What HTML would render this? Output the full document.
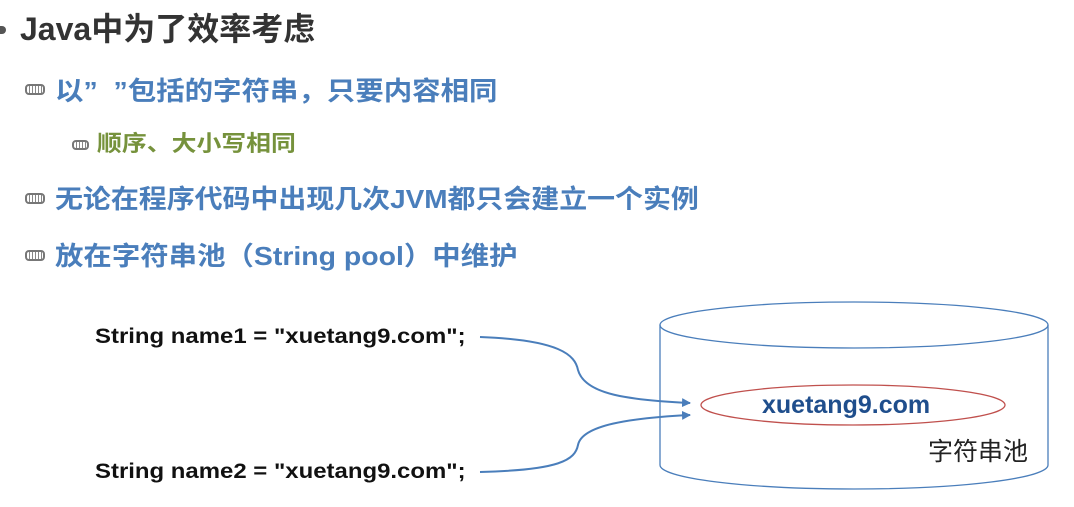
<!DOCTYPE html>
<html><head><meta charset="utf-8"><style>
body{margin:0;width:1074px;height:507px;background:#fff;position:relative;overflow:hidden;font-family:"Liberation Sans","Noto Sans CJK SC",sans-serif;font-weight:bold}
.t{position:absolute;white-space:nowrap;line-height:1;transform-origin:0 50%}
.ic{position:absolute;width:20px;height:11px;border:2px solid #777;border-radius:4px;background:repeating-linear-gradient(90deg,#fff 0 2px,#888 2px 3px);box-sizing:border-box}
</style></head><body>
<div style="position:absolute;left:0;top:26px;width:6px;height:8px;background:#555;border-radius:0 4px 4px 0"></div>
<div class="t" style="left:20px;top:13px;font-size:32px;color:#333">Java中为了效率考虑</div>
<div class="ic" style="left:25px;top:84px"></div>
<div class="t" style="left:55px;top:78px;font-size:26px;color:#4a7ebb;transform:scaleX(1.094)">以”&nbsp;&nbsp;”包括的字符串，只要内容相同</div>
<div class="ic" style="left:72px;top:140px;width:17px;height:10px"></div>
<div class="t" style="left:97px;top:133px;font-size:22px;color:#76923c;transform:scaleX(1.13)">顺序、大小写相同</div>
<div class="ic" style="left:25px;top:193px"></div>
<div class="t" style="left:55px;top:186px;font-size:26px;color:#4a7ebb;transform:scaleX(1.074)">无论在程序代码中出现几次JVM都只会建立一个实例</div>
<div class="ic" style="left:25px;top:250px"></div>
<div class="t" style="left:55px;top:243px;font-size:26px;color:#4a7ebb;transform:scaleX(1.093)">放在字符串池（String pool）中维护</div>
<div class="t" style="left:95px;top:326px;font-size:21px;color:#111;transform:scaleX(1.14)">String name1 = "xuetang9.com";</div>
<div class="t" style="left:95px;top:461px;font-size:21px;color:#111;transform:scaleX(1.14)">String name2 = "xuetang9.com";</div>
<svg width="1074" height="507" style="position:absolute;left:0;top:0">
<defs><marker id="a" markerUnits="userSpaceOnUse" markerWidth="9" markerHeight="9" refX="8" refY="4.5" orient="auto"><path d="M0,0 L9,4.5 L0,9z" fill="#4a7ebb"/></marker></defs>
<path d="M660,325 V465" stroke="#4a7ebb" fill="none" stroke-width="1.3"/>
<path d="M1048,325 V465" stroke="#4a7ebb" fill="none" stroke-width="1.3"/>
<path d="M660,465 A194,24 0 0 0 1048,465" stroke="#4a7ebb" fill="none" stroke-width="1.3"/>
<ellipse cx="854" cy="325" rx="194" ry="23" stroke="#4a7ebb" fill="none" stroke-width="1.3"/>
<ellipse cx="853" cy="405" rx="152" ry="20" stroke="#c0504d" fill="none" stroke-width="1.3"/>
<path d="M480,337 C560,340 575,355 578,370 C585,395 630,400 690,403" stroke="#4a7ebb" fill="none" stroke-width="2" marker-end="url(#a)"/>
<path d="M480,472 C560,470 575,460 578,445 C582,425 630,418 690,415" stroke="#4a7ebb" fill="none" stroke-width="2" marker-end="url(#a)"/>
</svg>
<div class="t" style="left:762px;top:393px;font-size:25px;color:#1f4e8c">xuetang9.com</div>
<div class="t" style="left:928px;top:440px;font-size:25px;color:#222;font-weight:normal">字符串池</div>
</body></html>
